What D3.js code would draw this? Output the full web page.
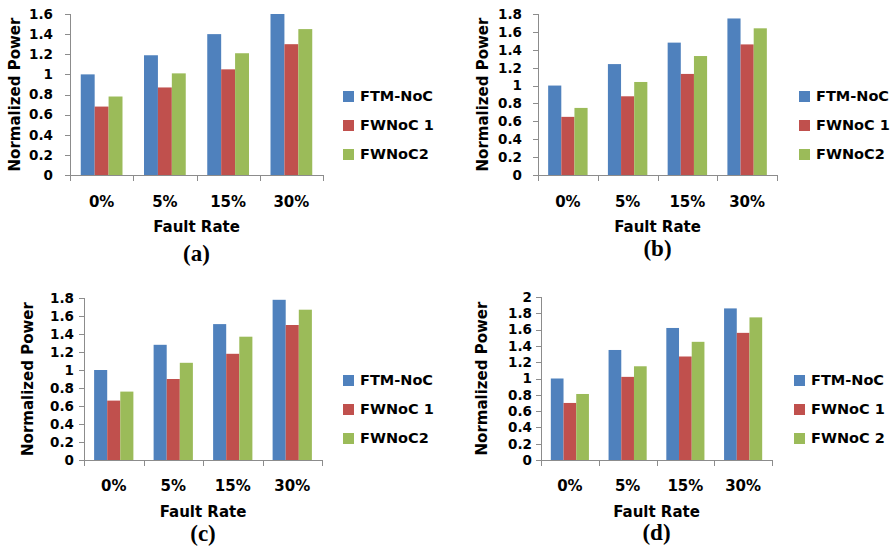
<!DOCTYPE html>
<html>
<head>
<meta charset="utf-8">
<script src="https://cdn.jsdelivr.net/npm/d3@7/dist/d3.min.js"></script>
<style>
  body { margin: 0; background: #fff; }
  text { font-family: "DejaVu Sans", sans-serif; font-weight: bold; fill: #000; }
  .panel-label { font-family: "Liberation Serif", "DejaVu Serif", serif; }
</style>
</head>
<body>
<svg id="chart" width="892" height="550"></svg>
<script>
// Normalized power vs fault rate, four panels (a)-(d)
const faultRates = ["0%", "5%", "15%", "30%"];
const seriesNames = ["FTM-NoC", "FWNoC 1", "FWNoC2"];
const seriesNamesD = ["FTM-NoC", "FWNoC 1", "FWNoC 2"];
const seriesColors = ["#4F81BD", "#C0504D", "#9BBB59"];

// values per series: [FTM-NoC, FWNoC 1, FWNoC 2]
const powerA = [
  [1.00, 1.19, 1.40, 1.60],
  [0.68, 0.87, 1.05, 1.30],
  [0.78, 1.01, 1.21, 1.45]
];
const powerB = [
  [1.00, 1.24, 1.48, 1.75],
  [0.65, 0.88, 1.13, 1.46],
  [0.75, 1.04, 1.33, 1.64]
];
const powerC = [
  [1.00, 1.28, 1.51, 1.78],
  [0.66, 0.90, 1.18, 1.50],
  [0.76, 1.08, 1.37, 1.67]
];
const powerD = [
  [1.00, 1.35, 1.62, 1.86],
  [0.70, 1.02, 1.27, 1.56],
  [0.81, 1.15, 1.45, 1.75]
];
const yMaxA = 1.6, yMaxB = 1.8, yMaxC = 1.8, yMaxD = 2.0;
const yStep = 0.2;

const svg = d3.select("#chart");
const axisColor = "#8c8c8c";
const fmt = d3.format("~g");

// layout of each panel on the page
const panels = [
  { label: "(a)", data: powerA, names: seriesNames, yMax: yMaxA,
    x0: 70, x1: 323, top: 14, base: 175, legX: 343, legY: 96, yLabX: 53,
    tickY: 202, titleY: 227, labelY: 253, yTitleX: 15 },
  { label: "(b)", data: powerB, names: seriesNames, yMax: yMaxB,
    x0: 538, x1: 777, top: 14, base: 175, legX: 799, legY: 96, yLabX: 522,
    tickY: 202, titleY: 227, labelY: 248, yTitleX: 483 },
  { label: "(c)", data: powerC, names: seriesNames, yMax: yMaxC,
    x0: 84, x1: 322, top: 298, base: 460, legX: 343, legY: 380, yLabX: 74,
    tickY: 486, titleY: 512, labelY: 533, yTitleX: 28 },
  { label: "(d)", data: powerD, names: seriesNamesD, yMax: yMaxD,
    x0: 541, x1: 772, top: 297, base: 460, legX: 794, legY: 380, yLabX: 532,
    tickY: 486, titleY: 512, labelY: 532, yTitleX: 482 }
];

function drawPanel(p) {
  const g = svg.append("g").attr("class", "panel");

  const x = d3.scaleBand().domain(faultRates).range([p.x0, p.x1]);
  const bw = x.bandwidth();
  const xs = d3.scaleBand().domain(d3.range(p.names.length))
    .range([bw * 0.17, bw * 0.83]);
  const y = d3.scaleLinear().domain([0, p.yMax]).range([p.base, p.top]);
  const ticks = d3.range(0, Math.round(p.yMax / yStep) + 1).map(i => i * yStep);

  // y axis
  g.append("line")
    .attr("x1", p.x0 + 0.5).attr("x2", p.x0 + 0.5)
    .attr("y1", y(0)).attr("y2", y(p.yMax))
    .attr("stroke", axisColor);
  g.selectAll(".ytick").data(ticks).enter().append("line")
    .attr("x1", p.x0 - 5).attr("x2", p.x0)
    .attr("y1", d => Math.round(y(d)) + 0.5).attr("y2", d => Math.round(y(d)) + 0.5)
    .attr("stroke", axisColor);
  g.selectAll(".ylab").data(ticks).enter().append("text")
    .attr("x", p.yLabX).attr("y", d => y(d)).attr("dy", "0.36em")
    .attr("text-anchor", "end").style("font-size", "13.5px")
    .text(d => fmt(d));

  // bars
  p.data.forEach((vals, si) => {
    g.selectAll(".bar-" + si).data(vals).enter().append("rect")
      .attr("x", (d, i) => x(faultRates[i]) + xs(si))
      .attr("width", xs.bandwidth())
      .attr("y", d => y(d))
      .attr("height", d => y(0) - y(d))
      .attr("fill", seriesColors[si]);
  });

  // x axis
  g.append("line")
    .attr("x1", p.x0).attr("x2", p.x1)
    .attr("y1", y(0) + 0.5).attr("y2", y(0) + 0.5)
    .attr("stroke", axisColor);
  const bounds = faultRates.map(c => x(c)).concat([p.x1]);
  g.selectAll(".xtick").data(bounds).enter().append("line")
    .attr("x1", d => Math.round(d) + 0.5).attr("x2", d => Math.round(d) + 0.5)
    .attr("y1", y(0)).attr("y2", y(0) + 6)
    .attr("stroke", axisColor);
  g.selectAll(".xlab").data(faultRates).enter().append("text")
    .attr("x", d => x(d) + bw / 2).attr("y", p.tickY).attr("dy", "0.36em")
    .attr("text-anchor", "middle").style("font-size", "15px")
    .text(d => d);

  const cx = (p.x0 + p.x1) / 2;
  g.append("text")
    .attr("x", cx).attr("y", p.titleY).attr("dy", "0.36em")
    .attr("text-anchor", "middle").style("font-size", "15px")
    .text("Fault Rate");

  g.append("text")
    .attr("transform", `translate(${p.yTitleX},${(p.top + p.base) / 2}) rotate(-90)`)
    .attr("dy", "0.36em")
    .attr("text-anchor", "middle").style("font-size", "15px")
    .text("Normalized Power");

  g.append("text").attr("class", "panel-label")
    .attr("x", cx).attr("y", p.labelY).attr("dy", "0.36em")
    .attr("text-anchor", "middle").style("font-size", "23px")
    .text(p.label);

  // legend
  const leg = g.selectAll(".leg").data(p.names).enter().append("g")
    .attr("transform", (d, i) => `translate(${p.legX},${p.legY + i * 29})`);
  leg.append("rect")
    .attr("x", 0).attr("y", -5).attr("width", 11).attr("height", 11)
    .attr("fill", (d, i) => seriesColors[i]);
  leg.append("text")
    .attr("x", 17).attr("y", 0).attr("dy", "0.36em")
    .style("font-size", "14.5px")
    .text(d => d);
}

panels.forEach(drawPanel);
</script>
</body>
</html>
